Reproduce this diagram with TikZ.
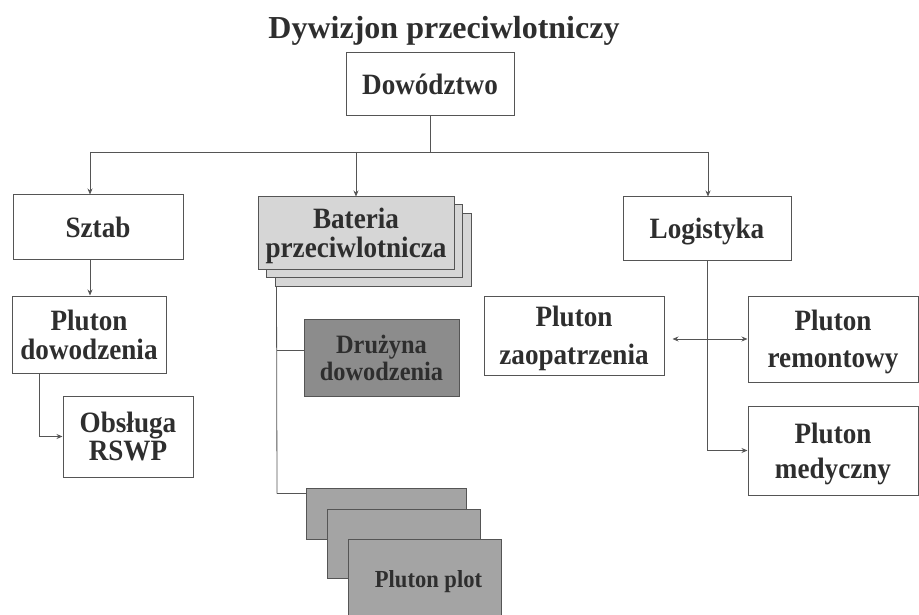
\documentclass[tikz,border=0pt]{standalone}
\usepackage{fontspec}
\setmainfont{Liberation Serif}
\newfontfamily\boxfont[FakeStretch=0.92]{Liberation Serif}
\usetikzlibrary{arrows.meta}
\definecolor{txt}{HTML}{2E2E2E}
\definecolor{ln}{HTML}{555555}
\definecolor{lightf}{HTML}{D6D6D6}
\definecolor{darkf}{HTML}{8C8C8C}
\definecolor{midf}{HTML}{A4A4A4}
\newcommand{\bxf}[1]{\fontsize{29.5}{#1}\selectfont\boxfont\bfseries}
\tikzset{
  box/.style={draw=ln, line width=1pt, inner sep=0pt, align=center, text=txt,
    text depth=0pt, font=\bxf{26}},
  conn/.style={draw=ln, line width=0.8pt},
  arr/.style={conn, -{Stealth[length=6pt,width=5pt]}},
  darr/.style={conn, {Stealth[length=6pt,width=5pt]}-{Stealth[length=6pt,width=5pt]}}
}
\begin{document}
\begin{tikzpicture}[x=1pt,y=-1pt]
\useasboundingbox (0,0) rectangle (919,615);
% title
\node[anchor=base, text=txt, font=\fontsize{32}{32}\selectfont\bfseries] (title) at (444,39) {Dywizjon przeciwlotniczy};
% top
\node[box, minimum width=168pt, minimum height=63pt] (dow) at (430,84.5) {Dowództwo};
\node[box, minimum width=170pt, minimum height=64pt] (sztab) at (98,227) {Sztab};
\node[box, fill=lightf, minimum width=196pt, minimum height=72pt] (bat3) at (373,250) {};
\node[box, fill=lightf, minimum width=196pt, minimum height=72pt] (bat2) at (364.5,241) {};
\node[box, fill=lightf, minimum width=196pt, minimum height=72pt, font=\bxf{29}] (bat) at (356,233) {Bateria\\przeciwlotnicza};
\node[box, minimum width=168pt, minimum height=63pt] (log) at (707,228.5) {Logistyka};
% left column
\node[box, minimum width=154pt, minimum height=77pt, font=\bxf{29}] (plud) at (89,334.5) {Pluton\\dowodzenia};
\node[box, minimum width=130pt, minimum height=81pt, font=\bxf{28}] (obs) at (128,436.5) {Obsługa\\RSWP};
% middle column
\node[box, fill=darkf, minimum width=155pt, minimum height=77pt,
  font={\fontsize{26.5}{27}\selectfont\boxfont\bfseries}] (druz) at (381.5,357.5) {Drużyna\\dowodzenia};
\node[box, fill=midf, minimum width=160pt, minimum height=51pt] (plot1) at (386,513.5) {};
\node[box, fill=midf, minimum width=153pt, minimum height=69pt] (plot2) at (403.5,543.5) {};
\node[box, fill=midf, minimum width=153pt, minimum height=80pt,
  font={\fontsize{24.5}{25}\selectfont\boxfont\bfseries}] (plot3) at (424.5,579) {\hspace*{8pt}Pluton plot};
% right column
\node[box, minimum width=180pt, minimum height=79pt, font=\bxf{38}] (zaop) at (574,335.5) {Pluton\\zaopatrzenia};
\node[box, minimum width=170pt, minimum height=86pt, font=\bxf{37}] (rem) at (833,339) {Pluton\\remontowy};
\node[box, minimum width=170pt, minimum height=89pt, font=\bxf{35}] (med) at (833,450.5) {Pluton\\medyczny};
% connectors
\coordinate (hub) at (430,152);
\coordinate (bL) at (90,152);
\coordinate (bR) at (708,152);
\draw[conn] (dow.south) -- (hub);
\draw[conn] (bL) -- (bR);
\draw[arr] (bL) -- (bL |- sztab.north);
\draw[arr] (bat.north |- hub) -- (bat.north);
\draw[arr] (bR) -- (bR |- log.north);
\draw[arr] (bL |- sztab.south) -- (bL |- plud.north);
\draw[arr] ([xshift=-50pt]plud.south) |- (obs.west);
\coordinate (vb) at (277,493.5);
\draw[conn] ([xshift=2pt]bat3.south west) -- (vb);
\draw[conn] (vb |- druz.west) ++(0,-7) -- ([yshift=7pt]druz.west);
\draw[conn] (vb) -- ([yshift=20pt]plot1.west);
\draw[arr] (log.south) |- (med.west);
\draw[darr] ([xshift=8pt]zaop.east |- rem.west) -- (rem.west);
\end{tikzpicture}
\end{document}
